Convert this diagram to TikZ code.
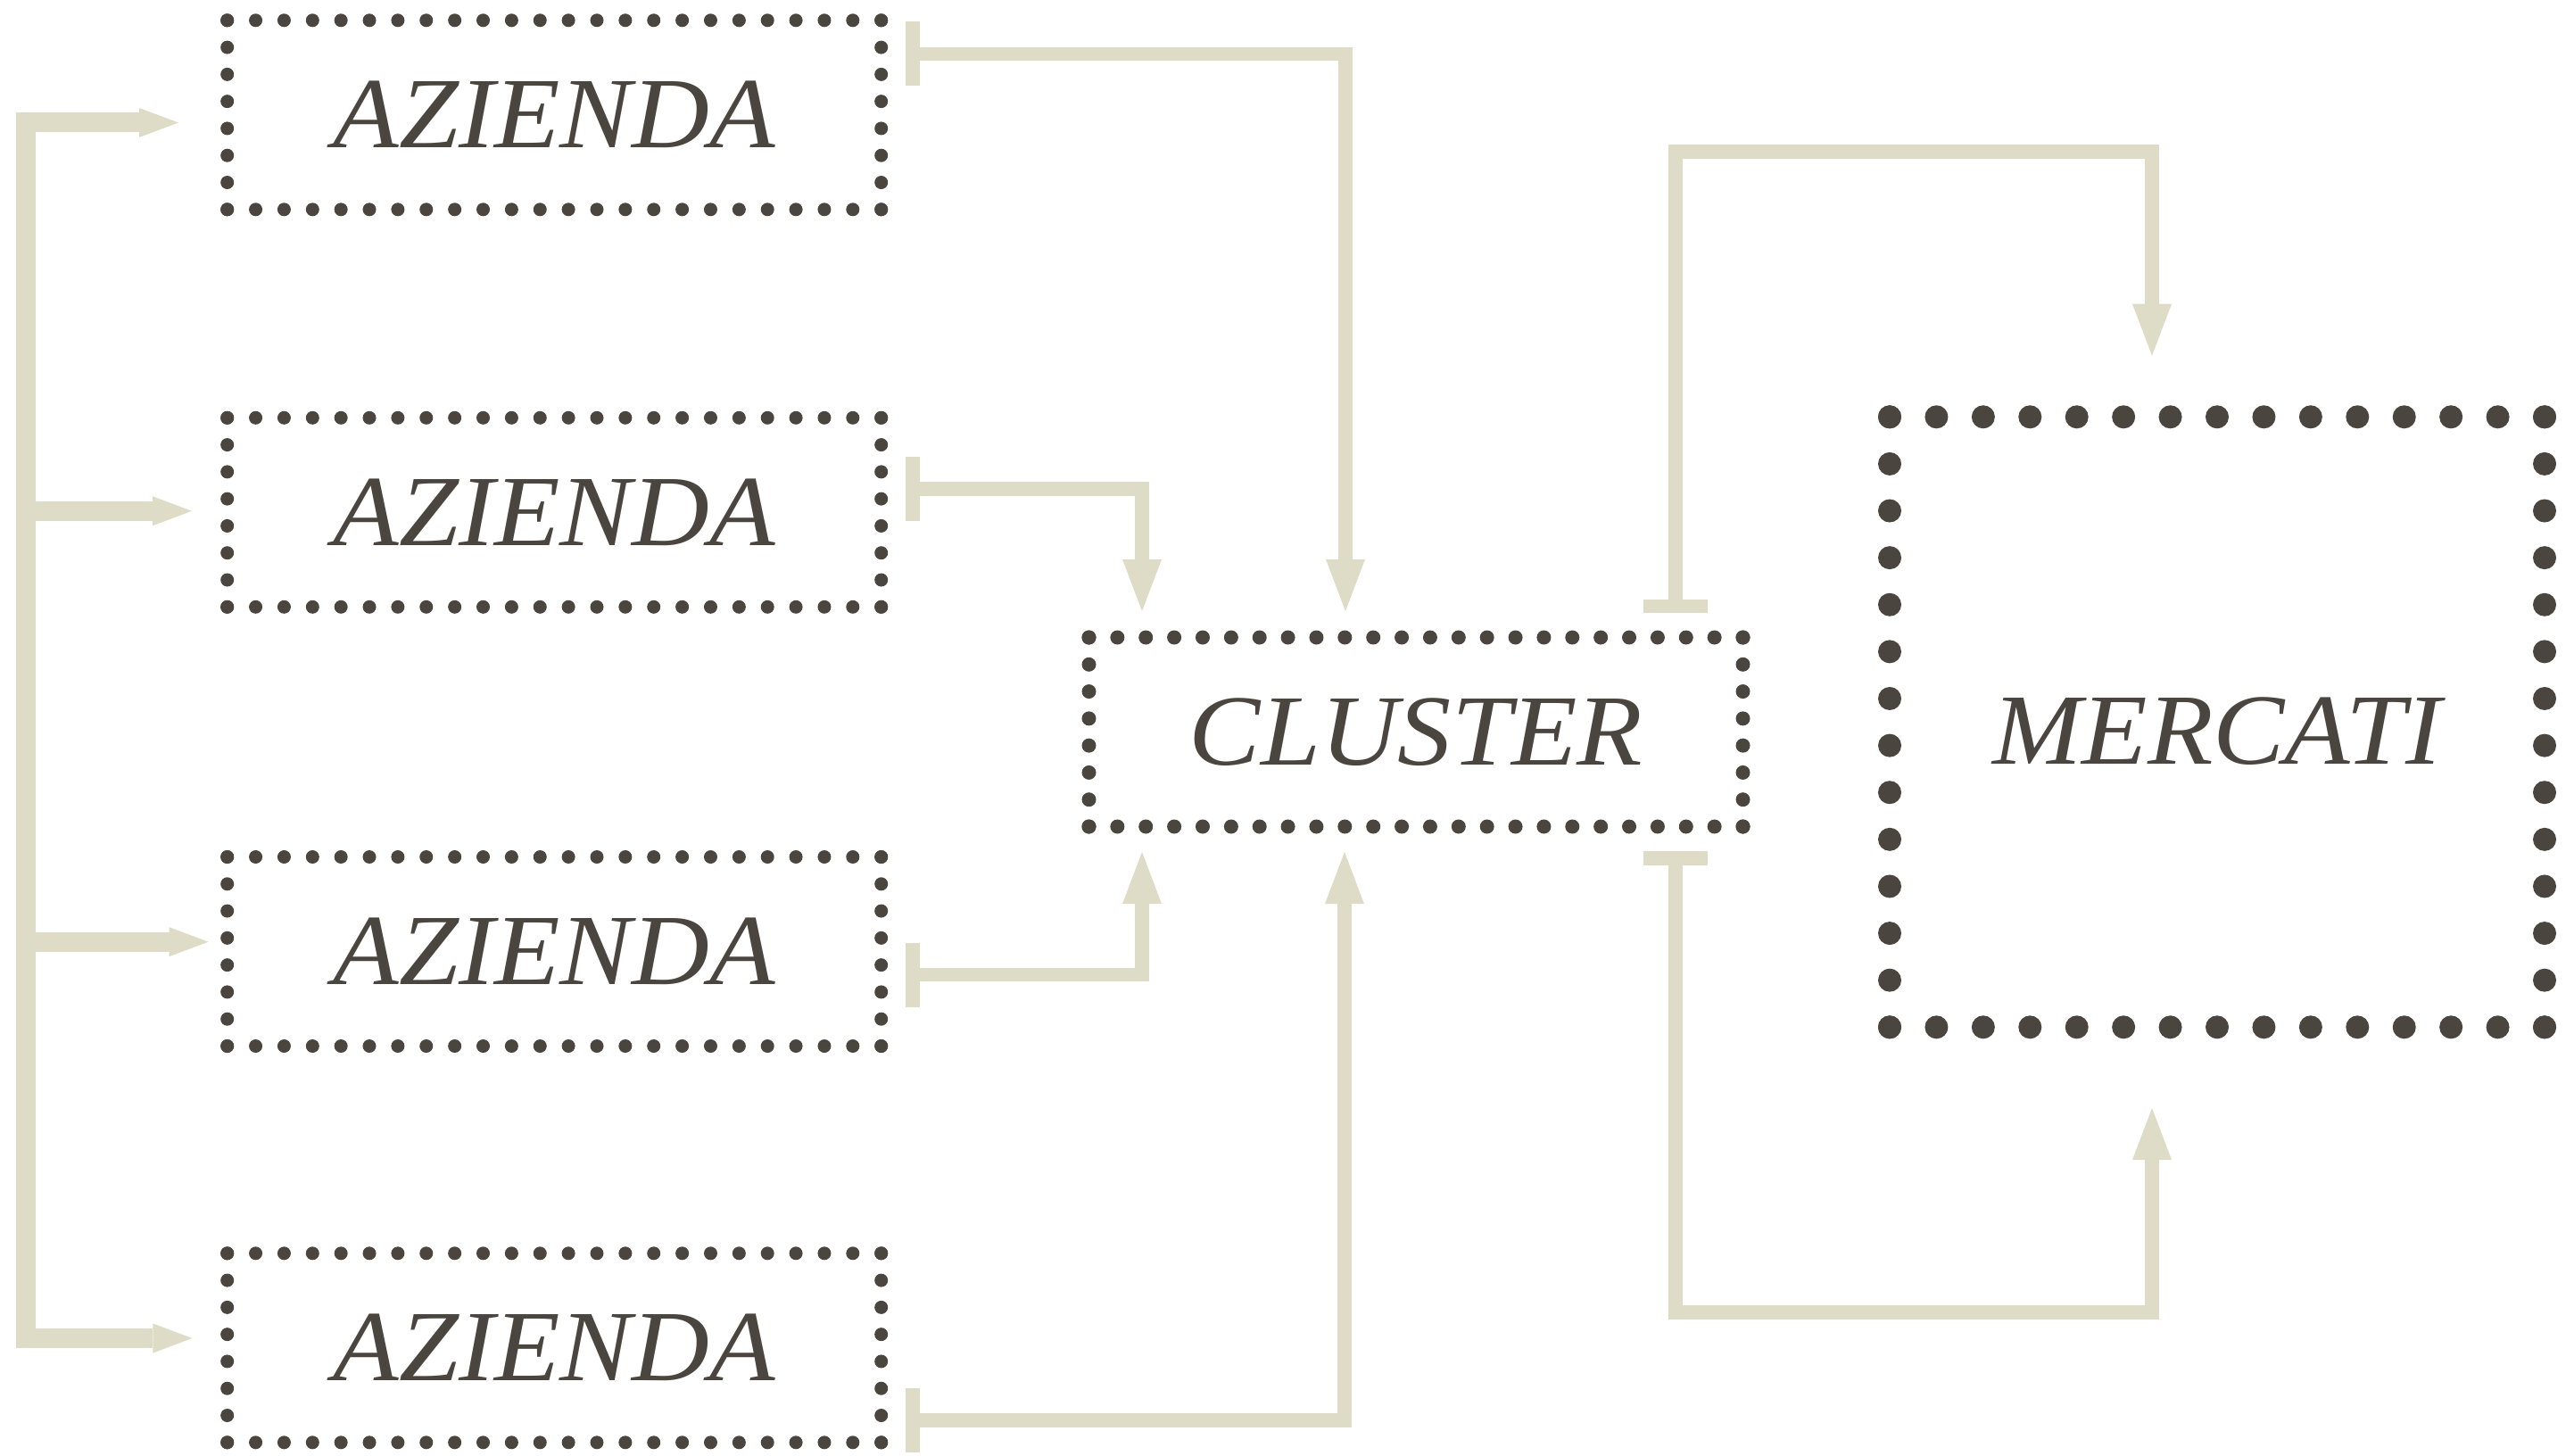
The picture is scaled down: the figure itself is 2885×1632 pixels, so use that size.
\documentclass[tikz,border=0pt]{standalone}
\usepackage{fontspec}
\setmainfont{Liberation Serif}[FakeStretch=1.065]
\usetikzlibrary{arrows.meta,calc}
\definecolor{linec}{RGB}{222,220,198}
\definecolor{inkc}{RGB}{74,69,62}
\newcommand\mydotframe[4]{%
  \foreach \i in {0,...,#2}{%
    \fill[inkc] ($(#1.north west)!\i/#2!(#1.north east)$) circle (#4);
    \fill[inkc] ($(#1.south west)!\i/#2!(#1.south east)$) circle (#4);
  }%
  \foreach \j in {0,...,#3}{%
    \fill[inkc] ($(#1.north west)!\j/#3!(#1.south west)$) circle (#4);
    \fill[inkc] ($(#1.north east)!\j/#3!(#1.south east)$) circle (#4);
  }%
}
\begin{document}
\begin{tikzpicture}[x=1pt,y=-1pt,
  box/.style={minimum width=733pt, minimum height=212pt, inner sep=0pt, outer sep=0pt,
    text=inkc, font=\fontsize{113}{130}\selectfont\itshape, text height=74pt, text depth=0pt},
  bigbox/.style={box, minimum width=734pt, minimum height=684pt, text height=94pt},
  tree/.style={draw=linec, line width=22pt},
  treetip/.style={-{Triangle[length=44pt,width=33pt,line width=0pt]}},
  link/.style={draw=linec, line width=15.5pt, {Bar[width=72pt]}-{Triangle[length=58pt,width=44pt,line width=0pt]}},
]
\useasboundingbox (0,0) rectangle (2885,1632);

% boxes
\node[box] (a1) at (621.2,128.8) {AZIENDA};
\node[box] (a2) at (621.2,574.3) {AZIENDA};
\node[box] (a3) at (621.2,1066.5) {AZIENDA};
\node[box] (a4) at (621.2,1510.8) {AZIENDA};
\node[box] (cl) at (1587,820.5) {CLUSTER};
\node[bigbox] (me) at (2485,809.3) {MERCATI};

\mydotframe{a1}{23}{7}{7.5}
\mydotframe{a2}{23}{7}{7.5}
\mydotframe{a3}{23}{7}{7.5}
\mydotframe{a4}{23}{7}{7.5}
\mydotframe{cl}{23}{7}{8}
\mydotframe{me}{14}{13}{13}

% left tree
\coordinate (t1) at (200,137.5);
\coordinate (t2) at (215,572.8);
\coordinate (t3) at (233.6,1055.7);
\coordinate (t4) at (215.4,1500);
\coordinate (tr1) at (28.8,137.5);
\coordinate (tr2) at (28.8,572.8);
\coordinate (tr3) at (28.8,1055.7);
\coordinate (tr4) at (28.8,1500);
\draw[tree, {Triangle[length=44pt,width=33pt,line width=0pt]}-{Triangle[length=44pt,width=33pt,line width=0pt]}]
  (t1) -- (tr1) -- (tr4) -- (t4);
\draw[tree, treetip] (tr2) -- (t2);
\draw[tree, treetip] (tr3) -- (t3);

% aziende -> cluster
\coordinate (b1) at (1015,60.3);
\coordinate (b2) at (1015,548);
\coordinate (b3) at (1015,1092.5);
\coordinate (b4) at (1015,1592);
\coordinate (ct1) at (1280,685);
\coordinate (ct2) at (1508,685);
\coordinate (cb1) at (1280,955);
\coordinate (cb2) at (1507,955);
\draw[link] (b1) -| (ct2);
\draw[link] (b2) -| (ct1);
\draw[link] (b3) -| (cb1);
\draw[link] (b4) -| (cb2);

% cluster -> mercati
\coordinate (cs1) at (1878,687);
\coordinate (k1) at (1878,170);
\coordinate (m1) at (2412,398.7);
\coordinate (cs2) at (1878,954);
\coordinate (k2) at (1878,1471);
\coordinate (m2) at (2412,1242);
\draw[link] (cs1) -- (k1) -| (m1);
\draw[link] (cs2) -- (k2) -| (m2);
\end{tikzpicture}
\end{document}
